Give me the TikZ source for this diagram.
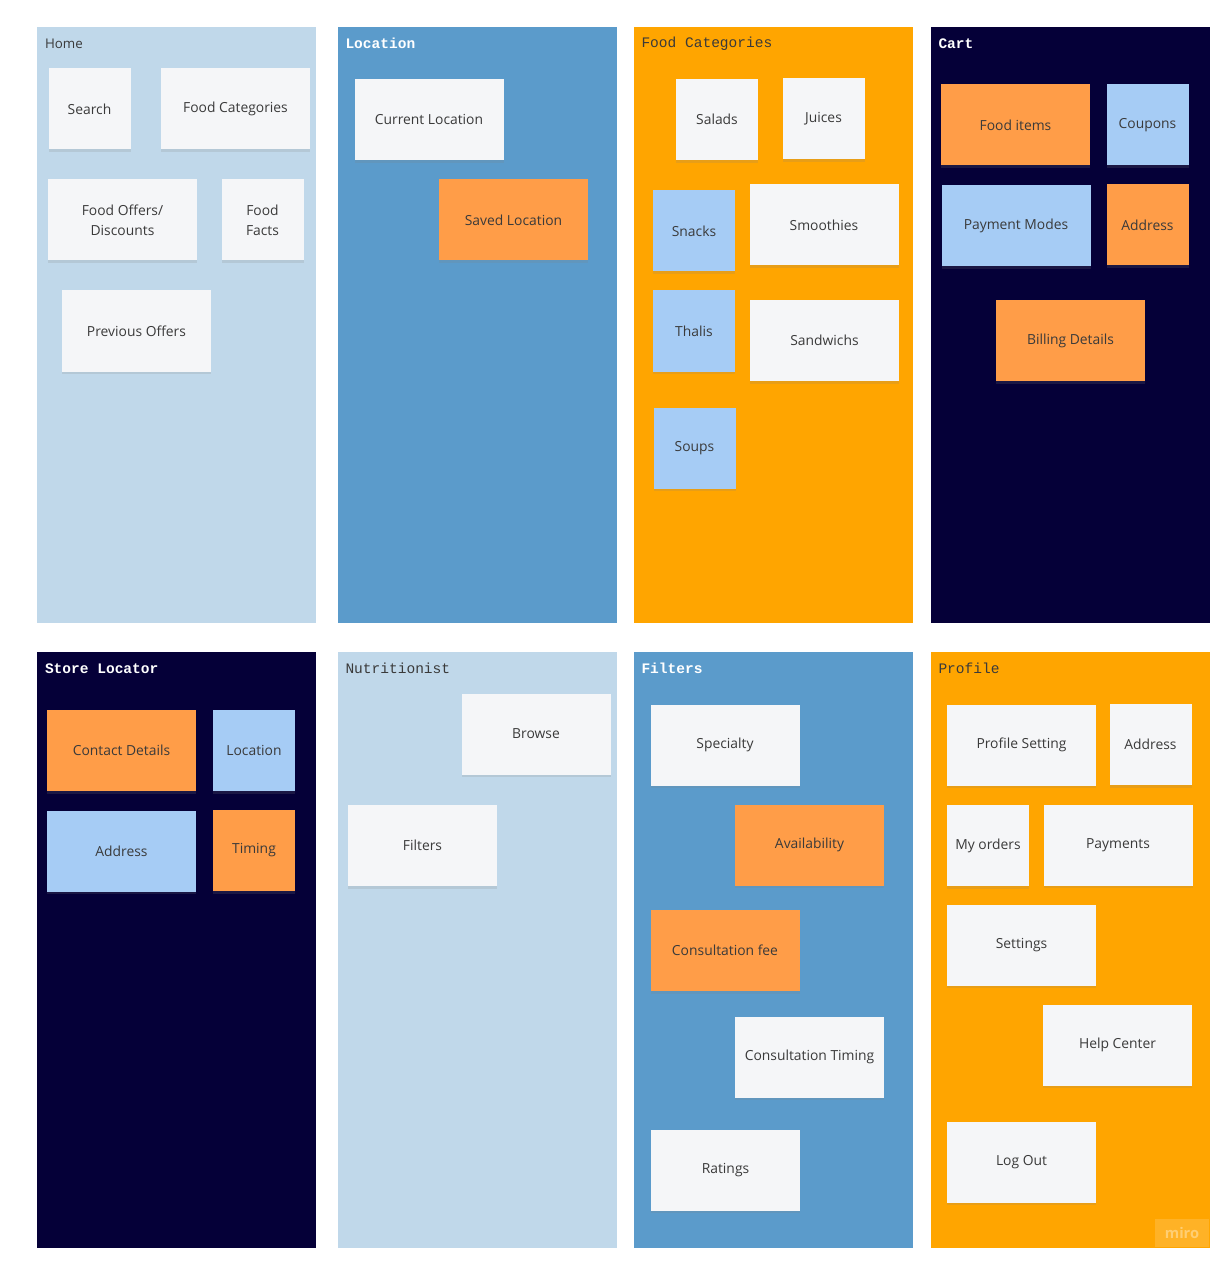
\documentclass[tikz,border=0pt]{standalone}
\usepackage{fontspec}
\setmainfont{Open Sans}
\newfontfamily\boardfont{Liberation Mono}
\usepackage{tikz}
\usetikzlibrary{positioning,shadows}

\definecolor{paleblue}{HTML}{C0D8EA}
\definecolor{midblue}{HTML}{5B9BCB}
\definecolor{amber}{HTML}{FFA500}
\definecolor{navy}{HTML}{050038}
\definecolor{notewhite}{HTML}{F5F6F8}
\definecolor{noteorange}{HTML}{FF9D48}
\definecolor{noteblue}{HTML}{A6CCF5}
\definecolor{inkgray}{HTML}{3A3A3A}

\begin{document}
\begin{tikzpicture}[x=0.75pt, y=-0.75pt,
    board/.style={inner sep=0pt, minimum width=209.25pt, minimum height=447pt},
    boardtitle/.style={anchor=west, inner sep=0pt, font=\boardfont\fontsize{10.9}{12}\selectfont},
    note/.style={inner sep=2pt, align=center, text=inkgray, minimum height=60.75pt,
        font=\fontsize{10.4}{15}\selectfont,
        drop shadow={shadow xshift=0pt, shadow yshift=-2pt, opacity=0.18}},
    wide/.style={note, minimum width=111.75pt},
    narrow/.style={note, minimum width=61.5pt},
    white/.style={fill=notewhite},
    orange/.style={fill=noteorange},
    blue/.style={fill=noteblue}]

    \useasboundingbox[fill=white] (0,0) rectangle (1230,1269);

    % Boards
    \node at (176.5,325) [board, fill=paleblue] (home) {};
    \node at (477,325) [board, fill=midblue] (location) {};
    \node at (773,325) [board, fill=amber] (categories) {};
    \node at (1070,325) [board, fill=navy] (cart) {};
    \node at (176.5,950) [board, fill=navy] (store) {};
    \node at (477,950) [board, fill=paleblue] (nutrition) {};
    \node at (773,950) [board, fill=midblue] (filters) {};
    \node at (1070,950) [board, fill=amber] (profile) {};

    % Board titles
    \node at ([shift={(6pt,-12.75pt)}]home.north west) [anchor=west, inner sep=0pt, text=inkgray, font=\fontsize{10}{12}\selectfont] (homeT) {Home};
    \node at ([shift={(6pt,-12.75pt)}]location.north west) [boardtitle, text=white] (locationT) {\bfseries Location};
    \node at ([shift={(6pt,-12.75pt)}]categories.north west) [boardtitle, text=inkgray] (categoriesT) {Food Categories};
    \node at ([shift={(6pt,-12.75pt)}]cart.north west) [boardtitle, text=white] (cartT) {\bfseries Cart};
    \node at ([shift={(6pt,-12.75pt)}]store.north west) [boardtitle, text=white] (storeT) {\bfseries Store Locator};
    \node at ([shift={(6pt,-12.75pt)}]nutrition.north west) [boardtitle, text=inkgray] (nutritionT) {Nutritionist};
    \node at ([shift={(6pt,-12.75pt)}]filters.north west) [boardtitle, text=white] (filtersT) {\bfseries Filters};
    \node at ([shift={(6pt,-12.75pt)}]profile.north west) [boardtitle, text=inkgray] (profileT) {Profile};

    % Home notes
    \node at (89.5,109) [narrow, white] (search) {Search};
    \node at (235.5,109) [wide, white] (homeCat) {Food Categories};
    \node at (122.5,220) [wide, white] (offers) {Food Offers/\\Discounts};
    \node at (262.5,220) [narrow, white] (facts) {Food\\Facts};
    \node at (136.5,331) [wide, white] (prevOffers) {Previous Offers};

    % Location notes
    \node at (429,119.5) [wide, white] (curLoc) {Current Location};
    \node at (513.5,220) [wide, orange] (savedLoc) {Saved Location};

    % Food category notes
    \node at (717,119.5) [narrow, white] (salads) {Salads};
    \node at (823.5,119) [narrow, white] (juices) {Juices};
    \node at (694,231) [narrow, blue] (snacks) {Snacks};
    \node at (824,225) [wide, white] (smoothies) {Smoothies};
    \node at (694,331) [narrow, blue] (thalis) {Thalis};
    \node at (824.5,340.5) [wide, white] (sandwichs) {Sandwichs};
    \node at (694.5,448) [narrow, blue] (soups) {Soups};

    % Cart notes
    \node at (1015.5,125) [wide, orange] (foodItems) {Food items};
    \node at (1147.5,125) [narrow, blue] (coupons) {Coupons};
    \node at (1016,225.5) [wide, blue] (payModes) {Payment Modes};
    \node at (1147.5,225) [narrow, orange] (cartAddr) {Address};
    \node at (1070.5,340.5) [wide, orange] (billing) {Billing Details};

    % Store locator notes
    \node at (121.5,750.5) [wide, orange] (contact) {Contact Details};
    \node at (254,750.5) [narrow, blue] (storeLoc) {Location};
    \node at (121.5,851) [wide, blue] (storeAddr) {Address};
    \node at (254,850.5) [narrow, orange] (timing) {Timing};

    % Nutritionist notes
    \node at (536,734) [wide, white] (browse) {Browse};
    \node at (422.5,845.5) [wide, white] (nutFilters) {Filters};

    % Filter notes
    \node at (725,745) [wide, white] (specialty) {Specialty};
    \node at (809.5,845) [wide, orange] (avail) {Availability};
    \node at (725,950.5) [wide, orange] (fee) {Consultation fee};
    \node at (809.5,1057) [wide, white] (consTiming) {Consultation Timing};
    \node at (725.5,1170) [wide, white] (ratings) {Ratings};

    % Profile notes
    \node at (1021.5,745) [wide, white] (profSet) {Profile Setting};
    \node at (1150.5,744.5) [narrow, white] (profAddr) {Address};
    \node at (988,845.5) [narrow, white] (orders) {My orders};
    \node at (1118,845) [wide, white] (payments) {Payments};
    \node at (1021.5,945) [wide, white] (settings) {Settings};
    \node at (1117.5,1045) [wide, white] (help) {Help Center};
    \node at (1021.5,1162) [wide, white] (logOut) {Log Out};

    % Watermark
    \node at (1182,1233) [fill=amber!85!white, text=amber!55!white, minimum width=40.5pt, minimum height=21pt, inner sep=0pt, font=\bfseries\fontsize{11}{12}\selectfont] (miro) {miro};

\end{tikzpicture}
\end{document}
